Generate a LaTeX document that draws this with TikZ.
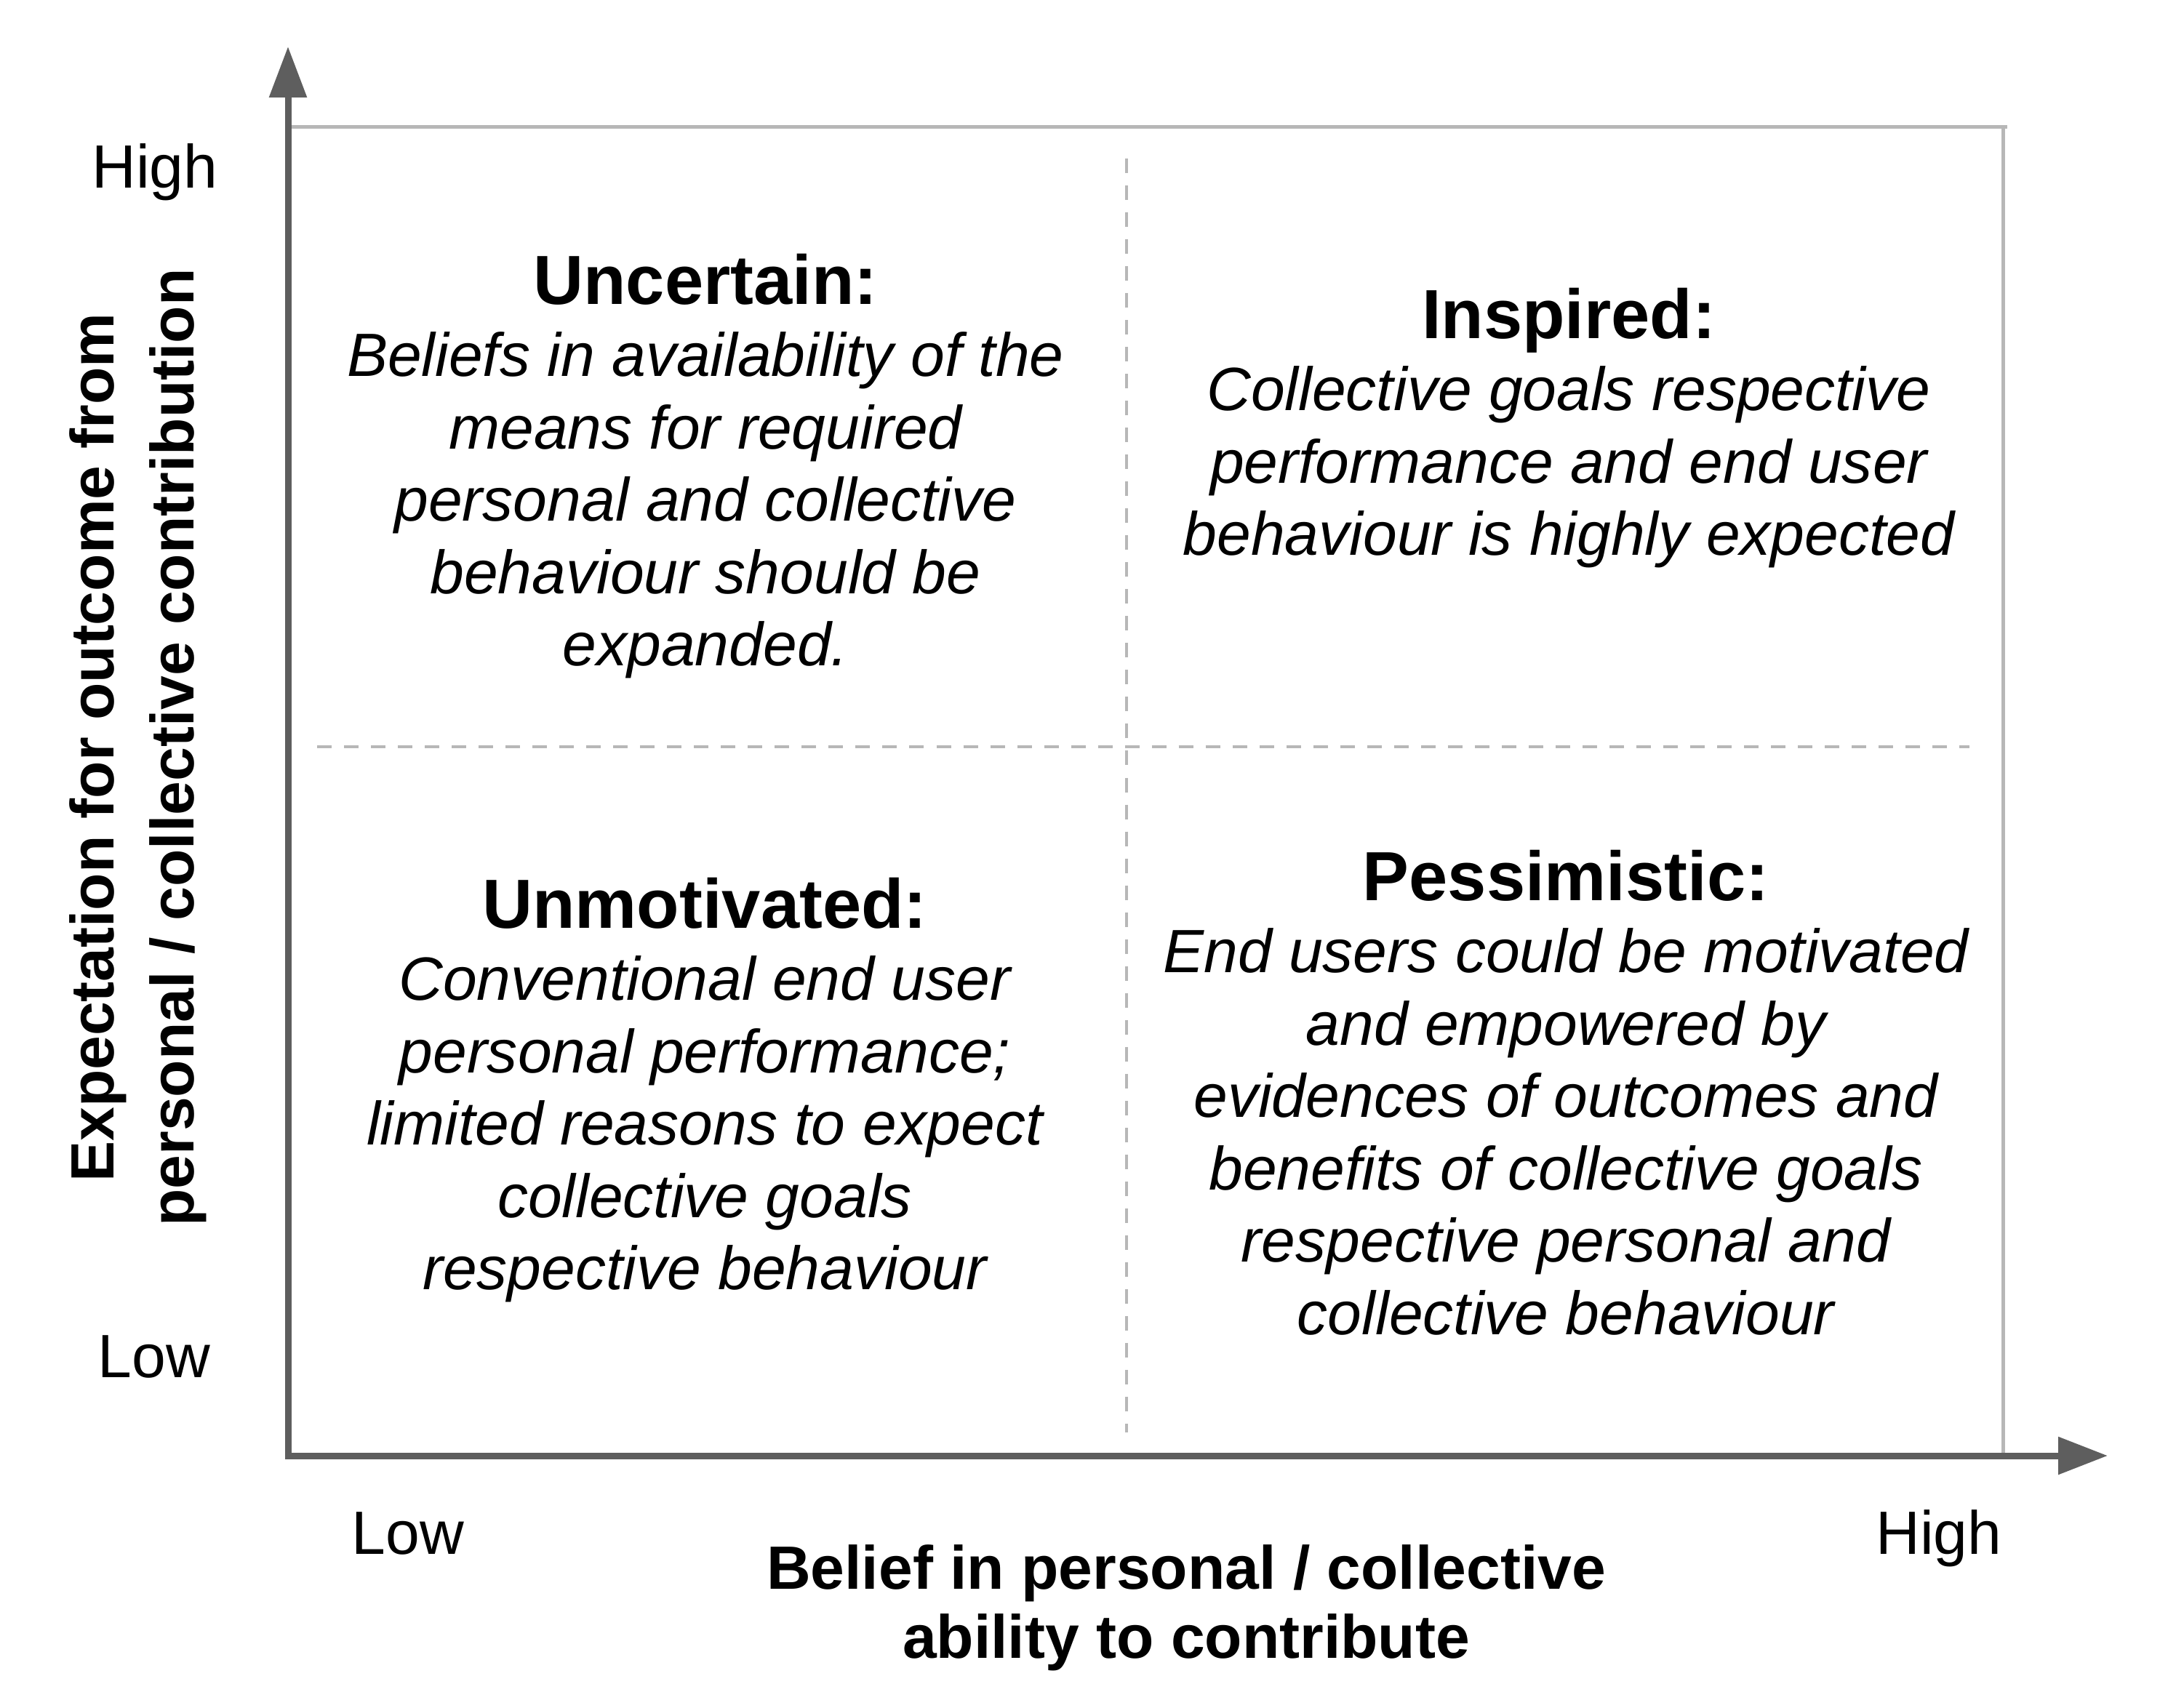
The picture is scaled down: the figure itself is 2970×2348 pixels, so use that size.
\documentclass[tikz,border=0pt]{standalone}
\usepackage{fontspec}
\setmainfont{Liberation Sans}
\usetikzlibrary{arrows.meta}
\definecolor{axisgray}{HTML}{5E5E5E}
\definecolor{linegray}{HTML}{B7B7B7}
\newcommand\qtitle[1]{{\fontsize{27.2pt}{28.3pt}\selectfont\bfseries\upshape #1}}
\begin{document}
\begin{tikzpicture}[x=0.01cm,y=-0.01cm,
  axisline/.style={draw=axisgray, line width=0.09cm, line join=miter,
    {Triangle[length=0.7cm,width=0.5cm]}-{Triangle[length=0.68cm,width=0.5cm]}},
  frameline/.style={draw=linegray, line width=0.05cm},
  divider/.style={draw=linegray, line width=0.04cm, dash pattern=on 0.2cm off 0.17cm},
  quad/.style={align=center, inner sep=0pt, anchor=north,
    font=\fontsize{23.9pt}{28.3pt}\selectfont\itshape},
  levellabel/.style={inner sep=0pt, anchor=base,
    font=\fontsize{23.9pt}{28.3pt}\selectfont},
  axlabel/.style={align=center, inner sep=0pt, anchor=north}]
\useasboundingbox (0,0) rectangle (2970,2348);

% frame and dividers
\coordinate (ftl) at (396,174);
\coordinate (ftr) at (2754,174);
\coordinate (fbr) at (2754,2002);
\draw[frameline] (ftl) -- (2760,174);
\draw[frameline] (ftr) -- (fbr);
\coordinate (vtop) at (1549,218);
\coordinate (vbot) at (1549,1970);
\coordinate (hleft) at (436,1027);
\coordinate (hright) at (2708,1027);
\draw[divider] (vtop) -- (vbot);
\draw[divider] (hleft) -- (hright);

% axes
\coordinate (O) at (396,2002);
\coordinate (ytip) at (396,64);
\coordinate (xtip) at (2898,2002);
\draw[axisline] (ytip) -- (O) -- (xtip);

% level labels
\node[levellabel] (yhigh) at (213,258) {High};
\node[levellabel] (ylow) at (212,1894) {Low};
\node[levellabel] (xlow) at (561,2137) {Low};
\node[levellabel] (xhigh) at (2666,2137) {High};

% axis titles
\node[axlabel, font=\fontsize{23.9pt}{26.9pt}\selectfont\bfseries] (xlabel) at (1631,2124)
  {Belief in personal / collective\\ability to contribute};
\node[axlabel, rotate=90, font=\fontsize{23.9pt}{31.2pt}\selectfont\bfseries] (ylabel) at (95,1028)
  {Expectation for outcome from\\personal / collective contribution};

% quadrants
\node[quad] (uncertain) at (970,348)
  {\qtitle{Uncertain:}\\Beliefs in availability of the\\means for required\\personal and collective\\behaviour should be\\expanded.};
\node[quad] (inspired) at (2157,395)
  {\qtitle{Inspired:}\\Collective goals respective\\performance and end user\\behaviour is highly expected};
\node[quad] (unmotivated) at (969,1206)
  {\qtitle{Unmotivated:}\\Conventional end user\\personal performance;\\limited reasons to expect\\collective goals\\respective behaviour};
\node[quad] (pessimistic) at (2153,1168)
  {\qtitle{Pessimistic:}\\End users could be motivated\\and empowered by\\evidences of outcomes and\\benefits of collective goals\\respective personal and\\collective behaviour};
\end{tikzpicture}
\end{document}
